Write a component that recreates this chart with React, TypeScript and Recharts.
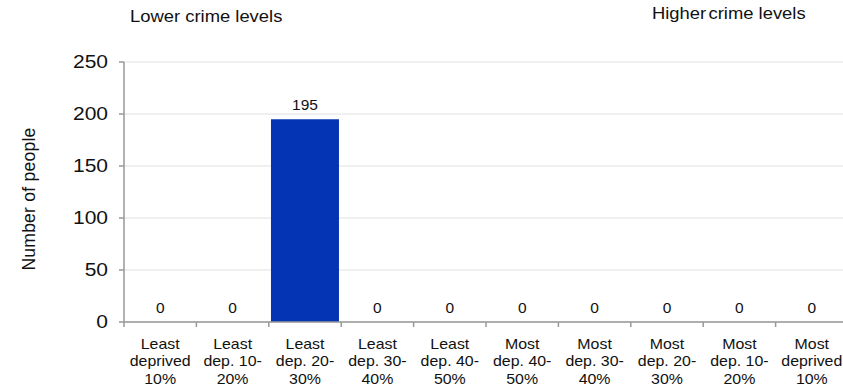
import React from 'react';
import { ComposedChart, Bar, Line, XAxis, YAxis, CartesianGrid, LabelList } from 'recharts';

const categories = [
  'Least\ndeprived\n10%',
  'Least\ndep. 10-\n20%',
  'Least\ndep. 20-\n30%',
  'Least\ndep. 30-\n40%',
  'Least\ndep. 40-\n50%',
  'Most\ndep. 40-\n50%',
  'Most\ndep. 30-\n40%',
  'Most\ndep. 20-\n30%',
  'Most\ndep. 10-\n20%',
  'Most\ndeprived\n10%',
];
const people = [0, 0, 195, 0, 0, 0, 0, 0, 0, 0];
const yTicks = [0, 50, 100, 150, 200, 250];
const leftTitle = 'Lower crime levels';
const rightTitle = 'Higher crime levels';
const yLabel = 'Number of people';

const data = categories.map((c, i) => ({ name: c, value: people[i] }));

const FONT = '"Liberation Sans", Arial, Helvetica, sans-serif';

const XTick = (props: any) => {
  const { x, y, payload, index } = props;
  const half = payload && typeof payload.offset === 'number' && payload.offset > 0 ? payload.offset : 36.2;
  const lines = String(payload.value).split('\n');
  return (
    <g>
      <line x1={x - half} x2={x - half} y1={y - 8} y2={y - 3} stroke="#999" strokeWidth={1.5} />
      {index === categories.length - 1 && (
        <line x1={x + half} x2={x + half} y1={y - 8} y2={y - 3} stroke="#999" strokeWidth={1.5} />
      )}
      <g transform={`translate(${x}, ${y + 19}) scale(1.09, 1)`}>
        <text x={0} y={0} textAnchor="middle" fontSize={14.6} fontFamily={FONT} fill="#111">
          {lines.map((l, i) => (
            <tspan key={i} x={0} dy={i === 0 ? 0 : 17.5}>
              {l}
            </tspan>
          ))}
        </text>
      </g>
    </g>
  );
};

const YTick = (props: any) => {
  const { x, y, payload } = props;
  return (
    <g transform={`translate(${x}, ${y}) scale(1.2, 1)`}>
      <text x={0} y={0} dy="0.355em" textAnchor="end" fontSize={17.5} fontFamily={FONT} fill="#111">
        {payload.value}
      </text>
    </g>
  );
};

const YLabelContent = (props: any) => {
  const { viewBox } = props;
  const cx = 29;
  const cy = viewBox.y + viewBox.height / 2 + 7;
  return (
    <text
      x={cx}
      y={cy}
      textAnchor="middle"
      dominantBaseline="central"
      transform={`rotate(-90, ${cx}, ${cy})`}
      fontSize={17.5}
      letterSpacing={0.25}
      fontFamily={FONT}
      fill="#111"
    >
      {yLabel}
    </text>
  );
};

const titleStyle: React.CSSProperties = {
  position: 'absolute',
  fontFamily: FONT,
  fontSize: 16.3,
  color: '#111',
  whiteSpace: 'nowrap',
  transform: 'scaleX(1.13)',
  transformOrigin: 'left top',
};

const rightWords = rightTitle.split(' ');

export default function App() {
  return (
    <div style={{ position: 'absolute', left: 0, top: 0, width: 843, height: 389, overflow: 'hidden', background: '#fff' }}>
      <div style={{ ...titleStyle, left: 130, top: 7 }}>{leftTitle}</div>
      <div style={{ ...titleStyle, left: 652, top: 3.5 }}>
        <span>{rightWords[0]}</span>
        <span style={{ marginLeft: -2.5 }}>{' ' + rightWords.slice(1).join(' ')}</span>
      </div>
      <ComposedChart
        width={850}
        height={389}
        data={data}
        margin={{ top: 62, right: 2, bottom: 0, left: 0 }}
        barCategoryGap="3%"
      >
        <CartesianGrid vertical={false} stroke="#ebebeb" strokeWidth={1.5} />
        <XAxis
          dataKey="name"
          interval={0}
          height={67}
          tickLine={false}
          axisLine={{ stroke: '#999', strokeWidth: 1.5 }}
          tick={<XTick />}
        />
        <YAxis
          width={124}
          domain={[0, 250]}
          ticks={yTicks}
          interval={0}
          tickSize={5}
          tickMargin={11}
          axisLine={{ stroke: '#999', strokeWidth: 1.5 }}
          tickLine={{ stroke: '#999', strokeWidth: 1.5 }}
          tick={<YTick />}
          label={<YLabelContent />}
        />
        <Bar dataKey="value" fill="#0433b4" isAnimationActive={false} />
        <Line
          dataKey="value"
          stroke="none"
          dot={false}
          activeDot={false}
          legendType="none"
          isAnimationActive={false}
        >
          <LabelList dataKey="value" position="top" offset={9} fontSize={15.5} fontFamily={FONT} fill="#111" />
        </Line>
      </ComposedChart>
    </div>
  );
}
